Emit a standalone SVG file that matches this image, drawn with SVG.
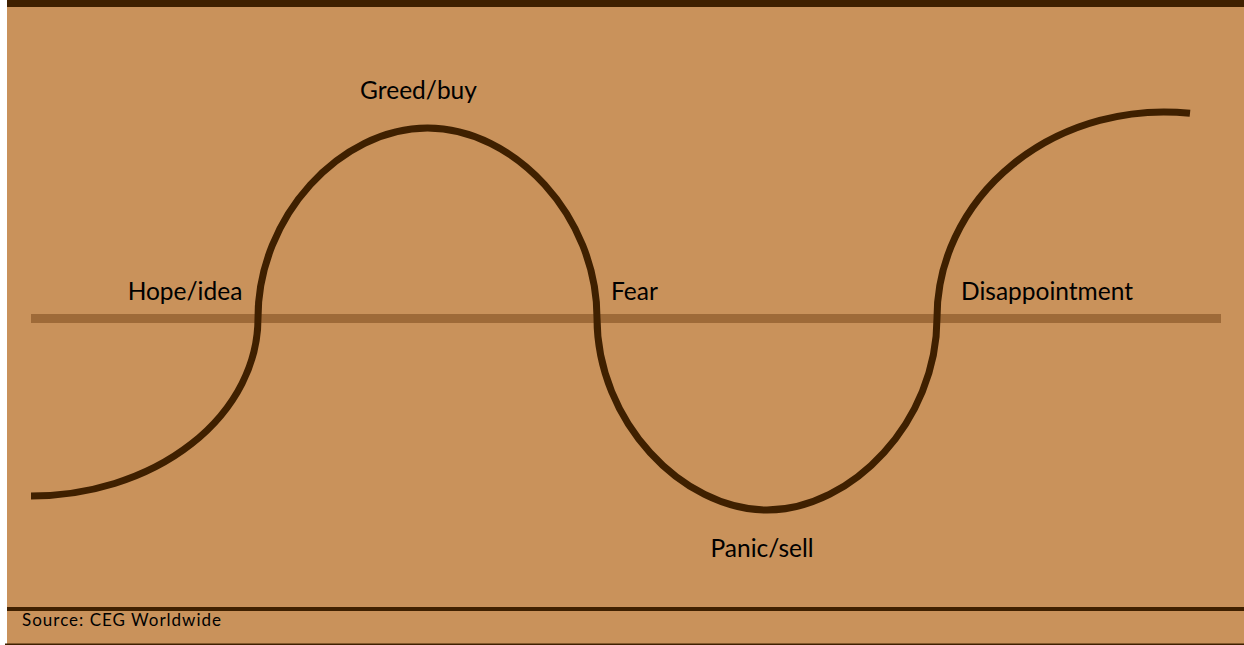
<svg xmlns="http://www.w3.org/2000/svg" width="1244" height="645" viewBox="0 0 1244 645">
<style>
.lbl{font-family:Lato,"Open Sans","Liberation Sans",sans-serif;font-size:24.5px;fill:#000;}
.src{font-family:Lato,"Open Sans","Liberation Sans",sans-serif;font-size:17px;letter-spacing:1px;fill:#000;}
.curve{fill:none;stroke:#3F2000;stroke-width:7;stroke-linecap:butt;}
</style>
<rect x="0" y="0" width="1244" height="645" fill="#FFFFFF"/>
<rect x="7" y="0" width="1237" height="645" fill="#C9925B"/>
<rect x="7" y="0" width="1237" height="7" fill="#3F2000"/>
<rect x="7" y="607" width="1237" height="4" fill="#3F2000"/>
<rect x="5" y="643.5" width="1239" height="1.5" fill="#3F2000"/>
<g id="axis">
<line x1="31" y1="318.5" x2="1221" y2="318.5" stroke="#9E6A38" stroke-width="9"/>
</g>
<g id="connectors">
<path class="curve" d="M31,496 A227,178 0 0 0 258,318 C258,216 341,128 427.5,128 C514,128 597,216 597,318 C597,421 682,510 767,510 C852,510 937,421 937,318 A227,206 0 0 1 1190,113.3"/>
</g>
<g id="greed"><text class="lbl" x="418.5" y="99" text-anchor="middle">Greed/buy</text></g>
<g id="hope"><text class="lbl" x="185" y="300" text-anchor="middle">Hope/idea</text></g>
<g id="fear"><text class="lbl" x="611" y="300">Fear</text></g>
<g id="disappointment"><text class="lbl" x="1047" y="300" text-anchor="middle">Disappointment</text></g>
<g id="panic"><text class="lbl" x="762" y="557" text-anchor="middle">Panic/sell</text></g>
<g id="source"><text class="src" x="22" y="626">Source: CEG Worldwide</text></g>
</svg>
